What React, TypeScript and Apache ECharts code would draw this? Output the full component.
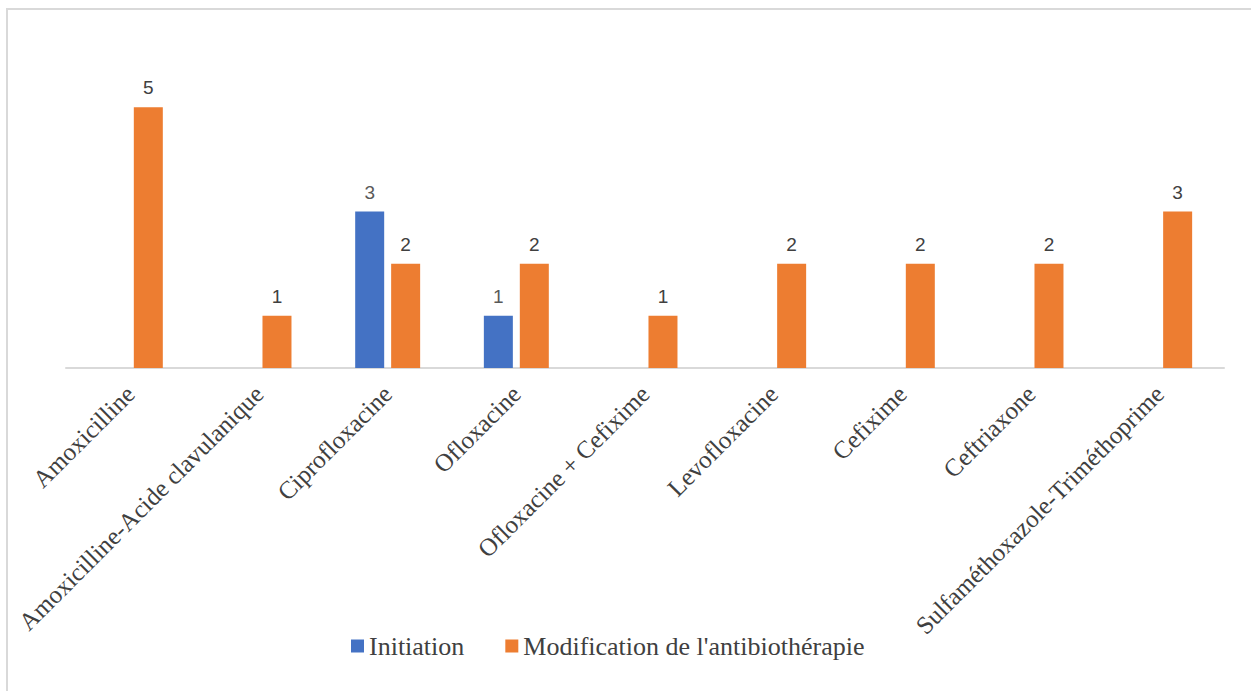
import React, { useEffect, useRef } from "react";
import * as echarts from "echarts";

const categories = [
  "Amoxicilline",
  "Amoxicilline-Acide clavulanique",
  "Ciprofloxacine",
  "Ofloxacine",
  "Ofloxacine + Cefixime",
  "Levofloxacine",
  "Cefixime",
  "Ceftriaxone",
  "Sulfaméthoxazole-Triméthoprime",
];
const initiation: (number | null)[] = [null, null, 3, 1, null, null, null, null, null];
const modification: (number | null)[] = [5, 1, 2, 2, 1, 2, 2, 2, 3];
const seriesNames = ["Initiation", "Modification de l'antibiothérapie"];

export default function App() {
  const ref = useRef<HTMLDivElement>(null);
  useEffect(() => {
    if (!ref.current) return;
    const chart = echarts.init(ref.current, null, { renderer: "svg" });
    const serif = "'Liberation Serif', 'Times New Roman', serif";
    const sans = "'Liberation Sans', Arial, sans-serif";
    chart.setOption({
      animation: false,
      backgroundColor: "#ffffff",
      grid: { left: 66, right: 27, top: 55, bottom: 323 },
      legend: {
        left: 346,
        top: 628,
        itemWidth: 13,
        itemHeight: 13,
        itemGap: 41,
        icon: "rect",
        textStyle: { fontFamily: serif, fontSize: 26, color: "#404040" },
        data: seriesNames,
      },
      xAxis: {
        type: "category",
        data: categories,
        axisLine: { show: true, lineStyle: { color: "#d9d9d9", width: 2 } },
        axisTick: { show: false },
        axisLabel: {
          interval: 0,
          rotate: 45,
          margin: 22,
          fontFamily: serif,
          fontSize: 25,
          color: "#404040",
        },
      },
      yAxis: {
        type: "value",
        min: 0,
        max: 6,
        interval: 1,
        show: false,
        splitLine: { show: false },
      },
      series: [
        {
          name: seriesNames[0],
          type: "bar",
          data: initiation,
          barWidth: 29,
          barGap: "24%",
          itemStyle: { color: "#4472C4" },
          label: {
            show: true,
            position: "top",
            distance: 10,
            fontFamily: sans,
            fontSize: 19,
            color: "#595959",
          },
        },
        {
          name: seriesNames[1],
          type: "bar",
          data: modification,
          barWidth: 29,
          barGap: "24%",
          itemStyle: { color: "#ED7D31" },
          label: {
            show: true,
            position: "top",
            distance: 10,
            fontFamily: sans,
            fontSize: 19,
            color: "#404040",
          },
        },
      ],
      graphic: [
        {
          type: "line",
          shape: { x1: 6, y1: 9, x2: 1251, y2: 9 },
          style: { stroke: "#d9d9d9", lineWidth: 2 },
          silent: true,
        },
        {
          type: "line",
          shape: { x1: 7, y1: 9, x2: 7, y2: 691 },
          style: { stroke: "#d9d9d9", lineWidth: 2 },
          silent: true,
        },
      ],
    });
    return () => chart.dispose();
  }, []);
  return (
    <div
      ref={ref}
      style={{ position: "fixed", left: 0, top: 0, width: 1251, height: 691 }}
    />
  );
}
